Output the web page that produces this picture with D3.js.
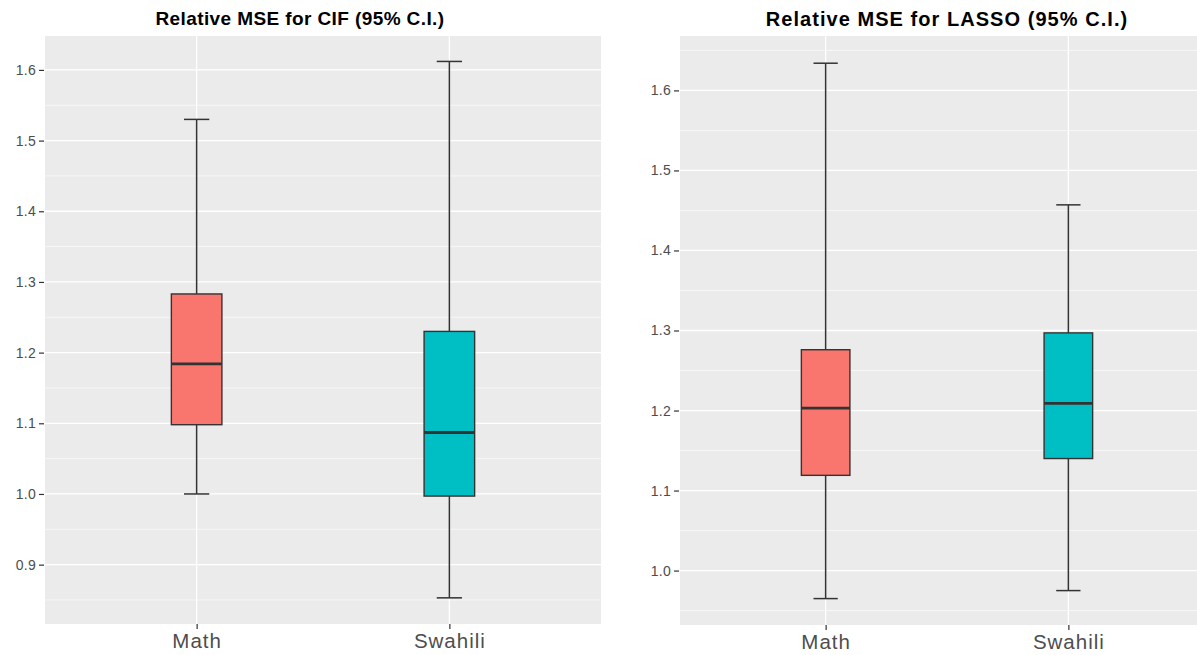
<!DOCTYPE html>
<html>
<head>
<meta charset="utf-8">
<script src="https://cdn.jsdelivr.net/npm/d3@7"></script>
<style>
  html, body { margin: 0; padding: 0; background: #ffffff; }
  svg { display: block; font-family: "Liberation Sans", Arial, Helvetica, sans-serif; }
</style>
</head>
<body>
<svg id="chart" width="1197" height="655"></svg>
<script>
// ---- data ----
const categories = ["Math", "Swahili"];
const fills = ["#F8766D", "#00BFC4"];
// [lower whisker, Q1, median, Q3, upper whisker]
const cifMath     = [1.000, 1.098, 1.184, 1.283, 1.530];
const cifSwahili  = [0.853, 0.997, 1.087, 1.230, 1.612];
const lassoMath    = [0.965, 1.119, 1.203, 1.276, 1.634];
const lassoSwahili = [0.975, 1.140, 1.209, 1.297, 1.457];
const cifTicks   = [0.9, 1.0, 1.1, 1.2, 1.3, 1.4, 1.5, 1.6];
const cifMinor   = [0.85, 0.95, 1.05, 1.15, 1.25, 1.35, 1.45, 1.55, 1.65];
const lassoTicks = [1.0, 1.1, 1.2, 1.3, 1.4, 1.5, 1.6];
const lassoMinor = [0.95, 1.05, 1.15, 1.25, 1.35, 1.45, 1.55, 1.65];

const svg = d3.select("#chart");

function panel(cfg) {
  const g = svg.append("g");
  const x = d3.scaleLinear().domain([0.4, 2.6]).range([cfg.x0, cfg.x1]);
  const y = d3.scaleLinear().domain(cfg.yDomain).range([cfg.y1, cfg.y0]);
  const clipId = "clip" + cfg.id;
  svg.append("clipPath").attr("id", clipId).append("rect")
    .attr("x", cfg.x0).attr("y", cfg.y0)
    .attr("width", cfg.x1 - cfg.x0).attr("height", cfg.y1 - cfg.y0);

  const pg = g.append("g").attr("clip-path", `url(#${clipId})`);
  pg.append("rect").attr("x", cfg.x0).attr("y", cfg.y0)
    .attr("width", cfg.x1 - cfg.x0).attr("height", cfg.y1 - cfg.y0)
    .attr("fill", "#EBEBEB");
  // minor grid
  pg.selectAll(".minor").data(cfg.minor).join("line")
    .attr("x1", cfg.x0).attr("x2", cfg.x1)
    .attr("y1", d => y(d)).attr("y2", d => y(d))
    .attr("stroke", "#ffffff").attr("stroke-width", 0.6);
  // major grid
  pg.selectAll(".major").data(cfg.ticks).join("line")
    .attr("x1", cfg.x0).attr("x2", cfg.x1)
    .attr("y1", d => y(d)).attr("y2", d => y(d))
    .attr("stroke", "#ffffff").attr("stroke-width", 1.3);
  pg.selectAll(".vmajor").data(categories).join("line")
    .attr("x1", (d, i) => x(i + 1)).attr("x2", (d, i) => x(i + 1))
    .attr("y1", cfg.y0).attr("y2", cfg.y1)
    .attr("stroke", "#ffffff").attr("stroke-width", 1.3);

  // boxes
  cfg.stats.forEach((s, i) => {
    const cx = x(i + 1);
    const bw = x(1.1) - x(1.0);   // half box width 0.1 -> box width 0.2
    const cw = x(1.05) - x(1.0);  // half cap width 0.05
    const col = "#333333";
    pg.append("line").attr("x1", cx).attr("x2", cx)
      .attr("y1", y(s[0])).attr("y2", y(s[4]))
      .attr("stroke", col).attr("stroke-width", 1.5);
    [s[0], s[4]].forEach(v => {
      pg.append("line").attr("x1", cx - cw).attr("x2", cx + cw)
        .attr("y1", y(v)).attr("y2", y(v))
        .attr("stroke", col).attr("stroke-width", 1.5);
    });
    pg.append("rect").attr("x", cx - bw).attr("width", 2 * bw)
      .attr("y", y(s[3])).attr("height", y(s[1]) - y(s[3]))
      .attr("fill", fills[i]).attr("stroke", col).attr("stroke-width", 1.4);
    pg.append("line").attr("x1", cx - bw).attr("x2", cx + bw)
      .attr("y1", y(s[2])).attr("y2", y(s[2]))
      .attr("stroke", col).attr("stroke-width", 2.8);
  });

  // y axis
  const yAxis = d3.axisLeft(y).tickValues(cfg.ticks).tickFormat(d3.format(".1f"))
    .tickSize(5).tickPadding(3);
  const ya = g.append("g").attr("transform", `translate(${cfg.x0 - 1},0)`).call(yAxis);
  ya.select(".domain").remove();
  ya.selectAll(".tick line").attr("stroke", "#333333").attr("stroke-width", 1.2);
  ya.selectAll(".tick text").attr("fill", "#4D4D4D").style("font-size", "14px")
    .style("letter-spacing", "0.3px")
    .style("font-family", "'Liberation Sans', Arial, sans-serif");

  // x axis
  const xAxis = d3.axisBottom(x).tickValues([1, 2]).tickFormat(d => categories[d - 1])
    .tickSize(5).tickPadding(4);
  const xa = g.append("g").attr("transform", `translate(0,${cfg.y1})`).call(xAxis);
  xa.select(".domain").remove();
  xa.selectAll(".tick line").attr("stroke", "#333333").attr("stroke-width", 1.2);
  xa.selectAll(".tick text").attr("fill", "#4D4D4D").style("font-size", "20.5px")
    .style("letter-spacing", "1px")
    .style("font-family", "'Liberation Sans', Arial, sans-serif");

  // title
  g.append("text").attr("x", cfg.titleX).attr("y", cfg.titleY)
    .attr("text-anchor", "middle").attr("font-weight", "bold")
    .style("font-size", cfg.titleSize).style("letter-spacing", cfg.titleSpacing)
    .attr("fill", "#000000")
    .text(cfg.title);
}

panel({
  id: "L", x0: 45, x1: 601, y0: 36, y1: 624,
  yDomain: [0.816, 1.648], ticks: cifTicks, minor: cifMinor,
  stats: [cifMath, cifSwahili], title: "Relative MSE for CIF (95% C.I.)",
  titleX: 300, titleY: 24.5, titleSize: "19px", titleSpacing: "0.4px"
});
panel({
  id: "R", x0: 680, x1: 1214, y0: 36, y1: 625,
  yDomain: [0.932, 1.668], ticks: lassoTicks, minor: lassoMinor,
  stats: [lassoMath, lassoSwahili], title: "Relative MSE for LASSO (95% C.I.)",
  titleX: 947, titleY: 26, titleSize: "20px", titleSpacing: "1.05px"
});
</script>
</body>
</html>
